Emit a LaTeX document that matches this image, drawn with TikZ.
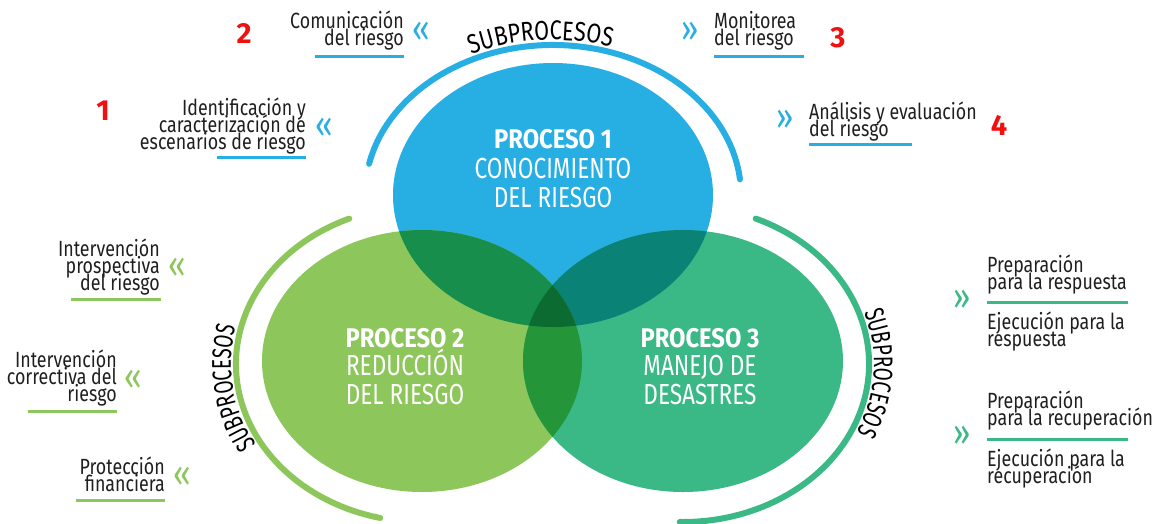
\documentclass[tikz,border=0pt]{standalone}
\usepackage{fontspec}
\setmainfont{Fira Sans}
\newfontfamily\lblfont[FakeStretch=0.81]{Fira Sans}
\newfontfamily\chevfont[FakeStretch=0.85]{Fira Sans}
\newfontfamily\circfont[FakeStretch=0.78]{Fira Sans}
\newfontfamily\circbfont[FakeStretch=0.88]{Fira Sans}
\newfontfamily\subAfont[FakeStretch=0.8]{Fira Sans}
\newfontfamily\subBfont[FakeStretch=0.7]{Fira Sans}
\newcommand\tightlines{\lineskiplimit=-100pt\relax\lineskip=0pt\relax}
\usetikzlibrary{calc,decorations.text}
\definecolor{cblue}{HTML}{27AEE3}
\definecolor{cgl}{HTML}{8DC65A}
\definecolor{cgt}{HTML}{3AB886}
\definecolor{c12}{HTML}{178E4C}
\definecolor{c13}{HTML}{0A8276}
\definecolor{c23}{HTML}{25953A}
\definecolor{c123}{HTML}{0B6B30}
\definecolor{txt}{HTML}{1F1F1F}
\definecolor{rednum}{HTML}{F01010}
\begin{document}
\begin{tikzpicture}[x=1pt,y=1pt,
  lbl/.style={font=\lblfont\fontsize{22}{17}\selectfont\tightlines, text=txt, inner sep=0pt},
  lblL/.style={lbl, anchor=base east, align=right},
  lblR/.style={lbl, anchor=base west, align=left},
  chev/.style={font=\chevfont\fontsize{36}{36}\selectfont, inner sep=0pt},
  redn/.style={font=\bfseries\fontsize{29}{29}\selectfont, text=rednum, anchor=base, inner sep=0pt},
  ptitle/.style={font=\circbfont\bfseries\fontsize{27}{27}\selectfont, text=white, anchor=base, inner sep=0pt},
  psub/.style={font=\circfont\fontsize{29}{29}\selectfont, text=white, anchor=base, inner sep=0pt},
  subarc/.style={line width=6pt, line cap=round},
  uline/.style={line width=3pt},
]
\useasboundingbox (0,0) rectangle (1152,-523);
\fill[white] (0,0) rectangle (1152,-523);

\coordinate (c1) at (553,-195);
\coordinate (c2) at (422,-361);
\coordinate (c3) at (683,-361);
\coordinate (a2) at (422,-364);
\coordinate (a3) at (683,-364);

% circles
\fill[cblue] (c1) ellipse [x radius=160pt, y radius=132pt];
\fill[cgl] (c2) ellipse [x radius=160pt, y radius=131pt];
\fill[cgt] (c3) ellipse [x radius=160pt, y radius=131pt];
\begin{scope}
  \clip (c1) ellipse [x radius=160pt, y radius=132pt];
  \fill[c12] (c2) ellipse [x radius=160pt, y radius=131pt];
\end{scope}
\begin{scope}
  \clip (c1) ellipse [x radius=160pt, y radius=132pt];
  \fill[c13] (c3) ellipse [x radius=160pt, y radius=131pt];
\end{scope}
\begin{scope}
  \clip (c2) ellipse [x radius=160pt, y radius=131pt];
  \fill[c23] (c3) ellipse [x radius=160pt, y radius=131pt];
\end{scope}
\begin{scope}
  \clip (c1) ellipse [x radius=160pt, y radius=132pt];
  \clip (c2) ellipse [x radius=160pt, y radius=131pt];
  \fill[c123] (c3) ellipse [x radius=160pt, y radius=131pt];
\end{scope}

% arcs
\draw[subarc, cblue] ($(c1)+(168:188pt and 150pt)$) arc[start angle=168, end angle=6, x radius=188pt, y radius=150pt];
\draw[subarc, cgl] ($(a2)+(113:186pt and 158pt)$) arc[start angle=113, end angle=257, x radius=186pt, y radius=158pt];
\draw[subarc, cgt] ($(a3)+(67:186pt and 158pt)$) arc[start angle=67, end angle=-91, x radius=186pt, y radius=158pt];

% SUBPROCESOS along arcs
\path[decorate, decoration={text along path, text={|\subAfont\fontsize{27}{27}\selectfont|SUBPROCESOS}, text align=center}]
  ($(c1)+(184.5:193pt and 155pt)$) arc[start angle=184.5, end angle=4.5, x radius=193pt, y radius=155pt];
\path[decorate, decoration={text along path, text={|\subBfont\fontsize{27}{27}\selectfont|SUBPROCESOS}, text align=center}]
  ($(a2)+(247.4:191pt and 163pt)$) arc[start angle=247.4, end angle=127.4, x radius=191pt, y radius=163pt];
\path[decorate, decoration={text along path, text={|\subBfont\fontsize{27}{27}\selectfont|SUBPROCESOS}, text align=center}]
  ($(a3)+(57.2:191pt and 163pt)$) arc[start angle=57.2, end angle=-62.8, x radius=191pt, y radius=163pt];

% circle texts
\node[ptitle] (p1a) at (553,-148) {PROCESO 1};
\node[psub] (p1b) at (553,-178) {CONOCIMIENTO};
\node[psub] (p1c) at (553,-207) {DEL RIESGO};
\node[ptitle] (p2a) at (405,-347) {PROCESO 2};
\node[psub] (p2b) at (405,-375) {REDUCCIÓN};
\node[psub] (p2c) at (405,-404) {DEL RIESGO};
\node[ptitle] (p3a) at (700,-347) {PROCESO 3};
\node[psub] (p3b) at (700,-375) {MANEJO DE};
\node[psub] (p3c) at (700,-404) {DESASTRES};

% red numbers
\node[redn] (n1) at (103,-120) {1};
\node[redn] (n2) at (244,-43) {2};
\node[redn] (n3) at (838,-47) {3};
\node[redn] (n4) at (999,-135) {4};

% blue labels left
\node[lblL] (comu) at (404,-45) {Comunicación\\del riesgo};
\draw[uline, cblue] (315,-56) -- (404,-56);
\node[chev, text=cblue] (chcomu) at (421,-32) {«};

\node[lblL] (iden) at (306,-149) {Identificación y\\caracterización de\\escenarios de riesgo};
\draw[uline, cblue] (217,-157) -- (306,-157);
\node[chev, text=cblue] (chiden) at (324,-128) {«};

% blue labels right
\node[chev, text=cblue] (chmoni) at (690,-32) {»};
\node[lblR] (moni) at (714,-45) {Monitorea\\del riesgo};
\draw[uline, cblue] (714,-56) -- (804,-56);

\node[chev, text=cblue] (chanal) at (785,-120) {»};
\node[lblR] (anal) at (809,-136) {Análisis y evaluación\\del riesgo};
\draw[uline, cblue] (809,-144) -- (912,-144);

% green labels left
\node[lblL] (ip) at (160,-290) {Intervención\\prospectiva\\del riesgo};
\draw[uline, cgl] (71,-299) -- (161,-299);
\node[chev, text=cgl] (chip) at (177,-268) {«};

\node[lblL] (ic) at (117,-401) {Intervención\\correctiva del\\riesgo};
\draw[uline, cgl] (28,-411) -- (117,-411);
\node[chev, text=cgl] (chic) at (133,-380) {«};

\node[lblL] (pf) at (165,-491) {Protección\\financiera};
\draw[uline, cgl] (76,-500) -- (165,-500);
\node[chev, text=cgl] (chpf) at (182,-477) {«};

% teal labels right
\node[chev, text=cgt] (chresp) at (962,-300) {»};
\node[lblR] (pr) at (987,-289) {Preparación\\para la respuesta};
\draw[uline, cgt] (987,-302) -- (1128,-302);
\node[lblR] (er) at (987,-346) {Ejecución para la\\respuesta};

\node[chev, text=cgt] (chrecu) at (962,-436) {»};
\node[lblR] (pc) at (987,-425) {Preparación\\para la recuperación};
\draw[uline, cgt] (987,-439) -- (1128,-439);
\node[lblR] (ec) at (987,-483) {Ejecución para la\\recuperación};
\end{tikzpicture}
\end{document}
